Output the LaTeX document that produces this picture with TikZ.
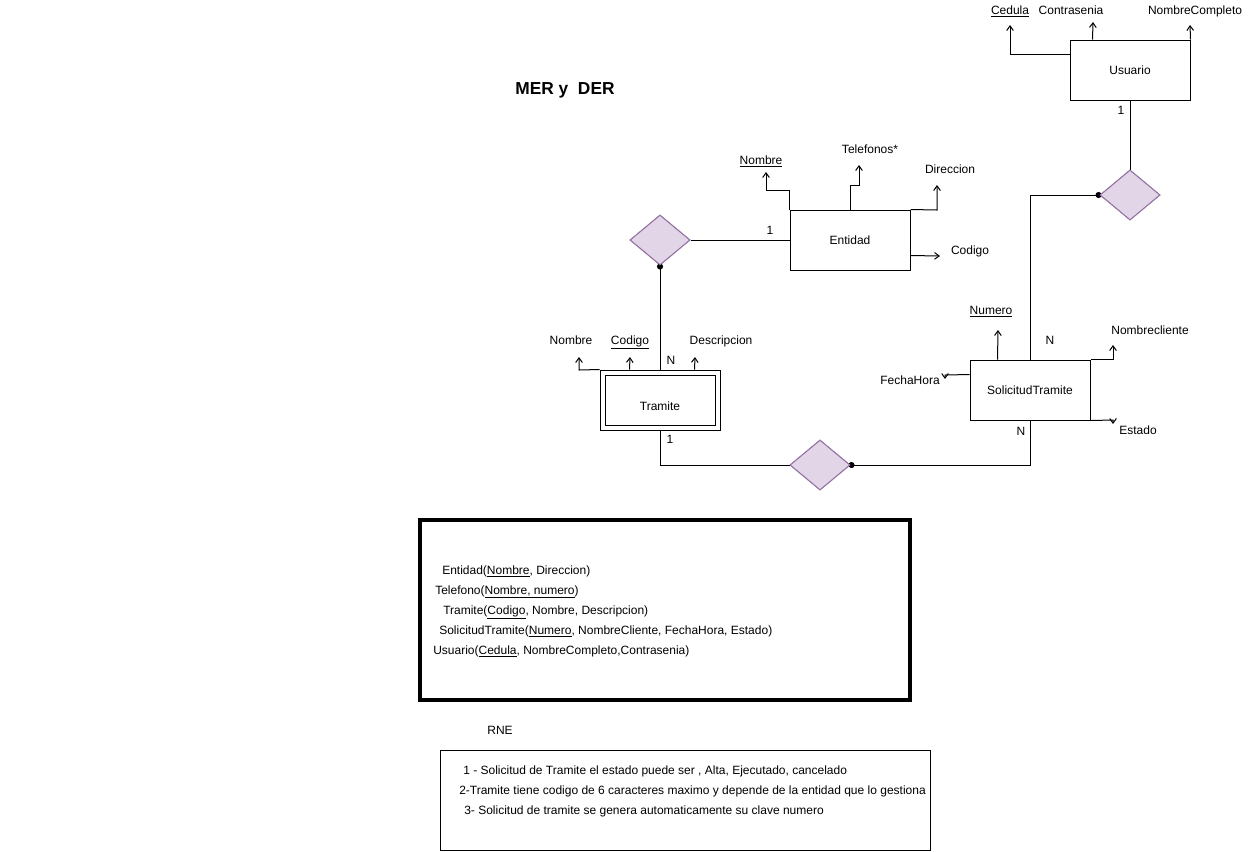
\documentclass[tikz,border=0pt]{standalone}
\usepackage{fontspec}
\setmainfont{Liberation Sans}
\usetikzlibrary{arrows.meta,shapes.geometric,calc}
\definecolor{relfill}{HTML}{E1D5E7}
\definecolor{reldraw}{HTML}{9673A6}
\tikzset{
  ent/.style={draw, line width=0.75pt, minimum width=90pt, minimum height=45pt, inner sep=0pt, font=\fontsize{9}{11}\selectfont},
  rel/.style={diamond, draw=reldraw, fill=relfill, line width=0.75pt, minimum width=45pt, minimum height=37.5pt, inner sep=0pt},
  ln/.style={line width=0.75pt},
  attr/.style={line width=0.75pt, -{Straight Barb[length=3.5pt,width=5pt]}},
  lbl/.style={font=\fontsize{9}{11}\selectfont, inner sep=0pt, text height=6.5pt, text depth=1.8pt},
  txt/.style={font=\fontsize{9}{11}\selectfont, inner sep=0pt, anchor=west, text height=6.5pt, text depth=1.8pt},
  dot/.style={fill=black}
}
\begin{document}
\begin{tikzpicture}[x=0.75pt,y=-0.75pt]
\useasboundingbox (0,0) rectangle (1251,851);

% title
\node[font=\bfseries\fontsize{13}{15}\selectfont, inner sep=0pt] (title) at (565,90) {MER y\ \ DER};

% ---------- Usuario ----------
\node[ent] (usuario) at (1130,70) {Usuario};
\coordinate (cedT) at (1010,25);
\coordinate (conT) at (1093,22);
\coordinate (ncT) at (1190,25);
\draw[attr] ($(usuario.north west)+(0,15)$) -| (cedT);
\draw[attr] ($(usuario.north west)+(23,0)$) -- (conT);
\draw[attr] (usuario.north east) -- (ncT);
\node[lbl] (cedL) at (1010,11) {\underline{Cedula}};
\node[lbl] (conL) at (1071,11) {Contrasenia};
\node[lbl] (ncL) at (1195,11) {NombreCompleto};
\node[lbl] (u1) at (1121,111) {1};

% relationship Usuario - Solicitud
\node[rel] (r2) at (1130,195) {};
\draw[ln] (usuario.south) -- (r2.north);

% ---------- SolicitudTramite ----------
\node[ent] (sol) at (1030,390) {SolicitudTramite};
\draw[ln] (r2.west) -| (sol.north);
\fill[dot] ($(r2.west)+(-1,0)$) circle[radius=2.3pt];
\node[rel] (r2b) at (1130,195) {};

\coordinate (numT) at (998,330);
\coordinate (fhA) at (945,375);
\coordinate (fhT) at (945,379);
\coordinate (nclT) at (1113,345);
\coordinate (estA) at (1113,420);
\coordinate (estT) at (1113,424);
\draw[attr] ($(sol.north west)+(28,0)$) -- (numT);
\draw[attr] ($(sol.north west)+(0,15)$) -- (fhA) -- (fhT);
\draw[attr] (sol.north east) -| (nclT);
\draw[attr] (sol.south east) -- (estA) -- (estT);
\node[lbl] (numL) at (991,311) {\underline{Numero}};
\node[lbl] (fhL) at (910,381) {FechaHora};
\node[lbl] (nclL) at (1150,331) {Nombrecliente};
\node[lbl] (estL) at (1138,431) {Estado};
\node[lbl] (sN1) at (1050,341) {N};
\node[lbl] (sN2) at (1021,432) {N};

% ---------- relationship Solicitud - Tramite ----------
\node[rel] (r3) at (820,465) {};
\draw[ln] (sol.south) |- (r3.east);
\fill[dot] ($(r3.east)+(1,0)$) circle[radius=2.3pt];
\node[rel] (r3b) at (820,465) {};

% ---------- Tramite (weak entity) ----------
\node[ent] (tra) at (660,400) {};
\node[draw, line width=0.75pt, minimum width=82.5pt, minimum height=37.5pt, inner sep=0pt] (traIn) at (660,400) {};
\node[lbl] (traL) at (660,407) {Tramite};
\draw[ln] (r3.west) -| (tra.south);
\node[lbl] (t1) at (670,440) {1};

\coordinate (tnA) at (579,370);
\coordinate (tnT) at (579,357);
\coordinate (tcT) at (630,357);
\coordinate (tdT) at (695,357);
\draw[attr] (tra.north west) -- (tnA) -- (tnT);
\draw[attr] ($(tra.north west)+(30,0)$) -- (tcT);
\draw[attr] ($(tra.north west)+(95,0)$) -- (tdT);
\node[lbl] (tnL) at (571,341) {Nombre};
\node[lbl] (tcL) at (630,341) {\underline{Codigo}};
\node[lbl] (tdL) at (721,341) {Descripcion};
\node[lbl] (tN) at (671,361) {N};

% ---------- relationship Tramite - Entidad ----------
\node[rel] (r1) at (660,240) {};
\draw[ln] (tra.north) -- (r1.south);
\fill[dot] ($(r1.south)+(0,1)$) circle[radius=2.3pt];
\node[rel] (r1b) at (660,240) {};

% ---------- Entidad ----------
\node[ent] (ent) at (850,240) {Entidad};
\draw[ln] (r1.east) -- (ent.west);
\node[lbl] (e1) at (770,231) {1};

\coordinate (enA) at (766,190);
\coordinate (enT) at (766,172);
\coordinate (etA) at (850,185);
\coordinate (etB) at (859,185);
\coordinate (etT) at (859,165);
\coordinate (edA) at (937,210);
\coordinate (edT) at (937,185);
\coordinate (ecT) at (940,256);
\draw[attr] (ent.north west) |- (enA) -- (enT);
\draw[attr] (ent.north) -- (etA) -- (etB) -- (etT);
\draw[attr] (ent.north east) -- (edA) -- (edT);
\draw[attr] ($(ent.north east)+(0,46)$) -- (ecT);
\node[lbl] (enL) at (761,161) {\underline{Nombre}};
\node[lbl] (etL) at (870,150) {Telefonos*};
\node[lbl] (edL) at (950,170) {Direccion};
\node[lbl] (ecL) at (970,251) {Codigo};

% ---------- relational model box ----------
\node[draw, line width=3pt, minimum width=367.5pt, minimum height=135pt, inner sep=0pt] (relbox) at (665,610) {};
\node[txt] (m1) at (442,571) {Entidad(\underline{Nombre}, Direccion)};
\node[txt] (m2) at (435,591) {Telefono(\underline{Nombre, numero})};
\node[txt] (m3) at (443,611) {Tramite(\underline{Codigo}, Nombre, Descripcion)};
\node[txt] (m4) at (439,631) {SolicitudTramite(\underline{Numero}, NombreCliente, FechaHora, Estado)};
\node[txt] (m5) at (433,651) {Usuario(\underline{Cedula}, NombreCompleto,Contrasenia)};

% ---------- RNE ----------
\node[lbl] (rneL) at (500,731) {RNE};
\node[draw, line width=0.75pt, minimum width=367.5pt, minimum height=75pt, inner sep=0pt] (rnebox) at (685,800) {};
\node[txt] (n1) at (463,771) {1 - Solicitud de Tramite el estado puede ser , Alta, Ejecutado, cancelado};
\node[txt] (n2) at (459,791) {2-Tramite tiene codigo de 6 caracteres maximo y depende de la entidad que lo gestiona};
\node[txt] (n3) at (464,811) {3- Solicitud de tramite se genera automaticamente su clave numero};
\end{tikzpicture}
\end{document}
